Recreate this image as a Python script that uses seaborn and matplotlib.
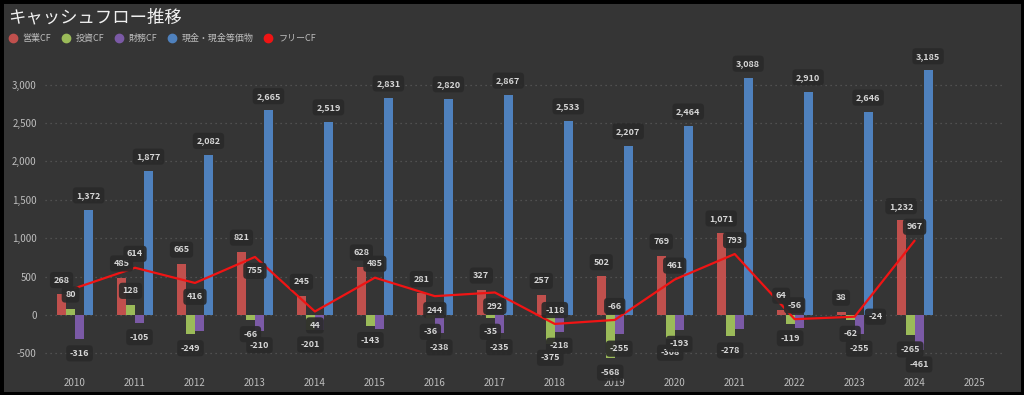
import numpy as np
import pandas as pd
import matplotlib
matplotlib.use('Agg')
import matplotlib.pyplot as plt
from matplotlib.lines import Line2D
from matplotlib.patches import Rectangle
import seaborn as sns

# -------------------------------
# データ
# -------------------------------
years = [str(y) for y in range(2010, 2025)]
axis_years = years + ['2025']

op_cf = [268, 485, 665, 821, 245, 628, 281, 327, 257, 502, 769, 1071, 64, 38, 1232]
inv_cf = [80, 128, -249, -66, -201, -143, -36, -35, -375, -568, -308, -278, -119, -62, -265]
fin_cf = [-316, -105, -210, -210, -195, -190, -238, -235, -218, -255, -193, -185, -170, -255, -461]
cash = [1372, 1877, 2082, 2665, 2519, 2831, 2820, 2867, 2533, 2207, 2464, 3088, 2910, 2646, 3185]
free_cf = [348, 614, 416, 755, 44, 485, 244, 292, -118, -66, 461, 793, -56, -24, 967]

kinds = ['営業CF', '投資CF', '財務CF', '現金・現金等価物']
colors = ['#c0504d', '#9bbb59', '#7b5aa6', '#4f81bd']
line_color = '#f01414'

# ラベルを出さないもの（元グラフで非表示）
hidden = {('財務CF', '2012'), ('財務CF', '2014'), ('財務CF', '2015'),
          ('財務CF', '2021'), ('財務CF', '2022')}
hidden_free = {'2010'}
free_label_side = ['up', 'up', 'down', 'down', 'down', 'up', 'down', 'down',
                   'up', 'up', 'up', 'up', 'up', 'right', 'up']
side_offset = {'up': (0, 10), 'down': (0, -10), 'right': (15, 0)}

df = pd.DataFrame({
    'year': years * 4,
    'kind': sum([[k] * len(years) for k in kinds], []),
    'value': op_cf + inv_cf + fin_cf + cash,
})

# -------------------------------
# スタイル
# -------------------------------
bg = '#353535'
txt = '#bdbdbd'
sns.set_style('dark')
plt.rcParams['font.family'] = ['Noto Sans CJK JP', 'DejaVu Sans']

fig = plt.figure(figsize=(10.24, 3.95), dpi=100, facecolor=bg)
ax = fig.add_axes([0.044, 0.063, 0.937, 0.81])
ax.set_facecolor(bg)

sns.barplot(data=df, x='year', y='value', hue='kind', order=axis_years,
            hue_order=kinds, palette=colors, width=0.6, saturation=1,
            legend=False, ax=ax, zorder=2, edgecolor='none', linewidth=0)

sns.lineplot(x=np.arange(len(years)), y=free_cf, color=line_color,
             linewidth=1.6, ax=ax, zorder=3)

box = dict(boxstyle='round,pad=0.4', fc='#2a2a2a', ec='none', alpha=0.92)

# バーのラベル
lookup = {(k, y): v for k, y, v in zip(df['kind'], df['year'], df['value'])}
for kind, cont in zip(kinds, ax.containers):
    labels = []
    for bar in cont:
        idx = int(round(bar.get_x() + bar.get_width() / 2))
        y = axis_years[idx]
        v = lookup.get((kind, y))
        if v is None or (kind, y) in hidden:
            labels.append('')
        else:
            labels.append(f'{v:,}')
    texts = ax.bar_label(cont, labels=labels, padding=7, fontsize=6.5,
                         color='#d6d6d6', fontweight='bold', zorder=5)
    for t in texts:
        if t.get_text():
            t.set_bbox(box)

# フリーCFのラベル
for i, (y, v) in enumerate(zip(years, free_cf)):
    if y in hidden_free:
        continue
    ax.annotate(f'{v:,}', (i, v), xytext=side_offset[free_label_side[i]],
                textcoords='offset points', ha='center', va='center',
                fontsize=6.5, color='#d6d6d6', fontweight='bold', bbox=box,
                zorder=6)

# -------------------------------
# 軸
# -------------------------------
ax.set_xlim(-0.5, 15.5)
ax.set_ylim(-720, 3450)
ax.set_yticks(range(-500, 3001, 500))
ax.yaxis.set_major_formatter(matplotlib.ticker.FuncFormatter(lambda v, p: f'{int(v):,}'))
ax.grid(axis='y', color='#5a5a5a', linestyle=(0, (1, 3)), linewidth=0.9, zorder=0)
ax.grid(axis='x', visible=False)
ax.set_xlabel('')
ax.set_ylabel('')
ax.tick_params(colors=txt, labelsize=7, length=0, pad=6)
for s in ax.spines.values():
    s.set_visible(False)

# タイトルと凡例
fig.text(0.008, 0.957, 'キャッシュフロー推移', fontsize=12.5, color='#f0f0f0',
         ha='left', va='center')
handles = [Line2D([], [], marker='o', linestyle='', color=c, markersize=6)
           for c in colors + [line_color]]
fig.legend(handles, kinds + ['フリーCF'], loc='center left',
           bbox_to_anchor=(0.0, 0.903), ncol=5, frameon=False, fontsize=6.5,
           labelcolor=txt, handletextpad=0.1, columnspacing=0.6,
           borderaxespad=0)

fig.patches.append(Rectangle((0, 0), 1, 1, transform=fig.transFigure,
                             fill=False, ec='black', lw=5, zorder=10))

fig.savefig('out.png', dpi=100, facecolor=bg)
